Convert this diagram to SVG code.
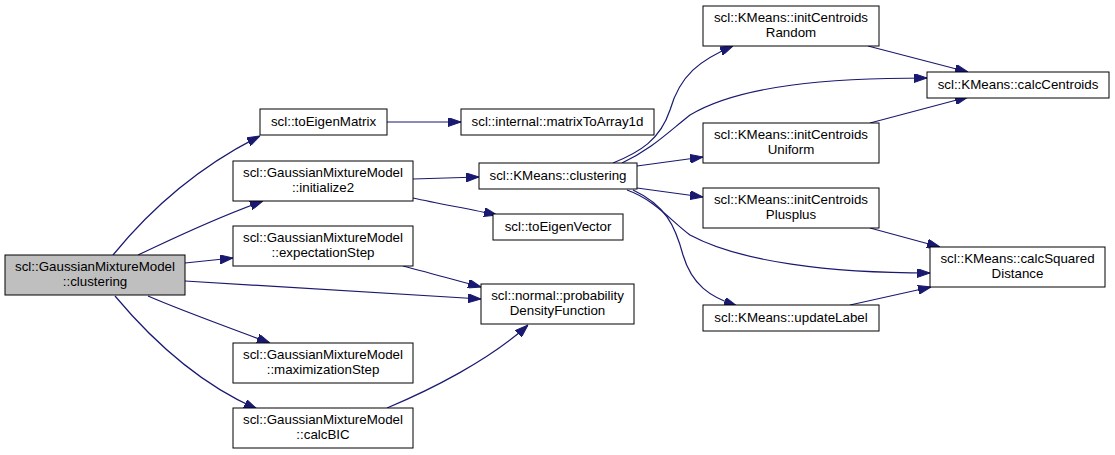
<svg xmlns="http://www.w3.org/2000/svg" width="1115" height="455" viewBox="0 0 1115 455">
<style>
.n rect{fill:#ffffff;stroke:#000000;stroke-width:1}
.n.root rect{fill:#bfbfbf}
.n text{font-family:"Liberation Sans",Arial,Helvetica,sans-serif;font-size:13.33px;fill:#000000;text-anchor:middle}
.e path{fill:none;stroke:#191970;stroke-width:1.2;marker-end:url(#ah)}
</style>
<defs>
<marker id="ah" viewBox="0 0 13 9" refX="13" refY="4.5" markerWidth="13" markerHeight="9" markerUnits="userSpaceOnUse" orient="auto">
<path d="M0,0 L13,4.5 L0,9 z" fill="#191970" stroke="#191970" stroke-width="1"/>
</marker>
</defs>
<rect width="1115" height="455" fill="#ffffff"/>
<g id="edges" class="e">
<path d="M113,255 C144,217 190,171 260,136"/>
<path d="M138,255 C170,240 210,220 263,201"/>
<path d="M185,263 L233,258"/>
<path d="M185,281 C280,287 380,293 481,299"/>
<path d="M148,296 C180,310 230,328 270,343"/>
<path d="M115,296 C146,333 195,382 257,409"/>
<path d="M387,122 L461,122"/>
<path d="M413,179 L479,177"/>
<path d="M413,198 C440,204 470,209 497,215"/>
<path d="M403,266 C430,273 455,280 481,287"/>
<path d="M387,408 C430,390 490,360 528,325"/>
<path d="M613,163 C640,152 660,140 670,110 C680,75 700,60 733,46"/>
<path d="M622,163 C650,150 665,135 690,115 C740,85 830,78 927,78"/>
<path d="M637,166 L703,157"/>
<path d="M637,188 L703,197"/>
<path d="M627,190 C655,200 670,220 690,235 C740,262 830,273 930,273"/>
<path d="M633,190 C665,205 675,225 683,255 C692,285 710,297 737,306"/>
<path d="M868,46 L968,72"/>
<path d="M870,123 L968,97"/>
<path d="M870,228 L940,247"/>
<path d="M850,305 L931,287"/>
</g>
<g id="node_root" class="n root"><rect x="5" y="255" width="180" height="40"/><text x="95" y="271">scl::GaussianMixtureModel</text><text x="95" y="286">::clustering</text></g>
<g id="node_toEigenMatrix" class="n"><rect x="260" y="109" width="127" height="26"/><text x="323.5" y="126">scl::toEigenMatrix</text></g>
<g id="node_initialize2" class="n"><rect x="233" y="161" width="180" height="40"/><text x="323" y="177">scl::GaussianMixtureModel</text><text x="323" y="192">::initialize2</text></g>
<g id="node_expectationStep" class="n"><rect x="233" y="226" width="180" height="40"/><text x="323" y="242">scl::GaussianMixtureModel</text><text x="323" y="257">::expectationStep</text></g>
<g id="node_maximizationStep" class="n"><rect x="233" y="343" width="180" height="40"/><text x="323" y="359">scl::GaussianMixtureModel</text><text x="323" y="374">::maximizationStep</text></g>
<g id="node_calcBIC" class="n"><rect x="233" y="408" width="180" height="40"/><text x="323" y="424">scl::GaussianMixtureModel</text><text x="323" y="439">::calcBIC</text></g>
<g id="node_matrixToArray1d" class="n"><rect x="461" y="109" width="193" height="26"/><text x="557.5" y="126">scl::internal::matrixToArray1d</text></g>
<g id="node_kmeans_clustering" class="n"><rect x="479" y="163" width="158" height="26"/><text x="558" y="180">scl::KMeans::clustering</text></g>
<g id="node_toEigenVector" class="n"><rect x="493" y="214" width="130" height="26"/><text x="558" y="231">scl::toEigenVector</text></g>
<g id="node_pdf" class="n"><rect x="481" y="284" width="153" height="40"/><text x="557.5" y="300">scl::normal::probability</text><text x="557.5" y="315">DensityFunction</text></g>
<g id="node_initCentroidsRandom" class="n"><rect x="703" y="6" width="176" height="40"/><text x="791" y="22">scl::KMeans::initCentroids</text><text x="791" y="37">Random</text></g>
<g id="node_initCentroidsUniform" class="n"><rect x="703" y="123" width="176" height="40"/><text x="791" y="139">scl::KMeans::initCentroids</text><text x="791" y="154">Uniform</text></g>
<g id="node_initCentroidsPlusplus" class="n"><rect x="703" y="188" width="176" height="40"/><text x="791" y="204">scl::KMeans::initCentroids</text><text x="791" y="219">Plusplus</text></g>
<g id="node_updateLabel" class="n"><rect x="703" y="305" width="176" height="26"/><text x="791" y="322">scl::KMeans::updateLabel</text></g>
<g id="node_calcCentroids" class="n"><rect x="927" y="72" width="182" height="26"/><text x="1018" y="89">scl::KMeans::calcCentroids</text></g>
<g id="node_calcSquaredDistance" class="n"><rect x="930" y="247" width="175" height="40"/><text x="1017.5" y="263">scl::KMeans::calcSquared</text><text x="1017.5" y="278">Distance</text></g>
</svg>
